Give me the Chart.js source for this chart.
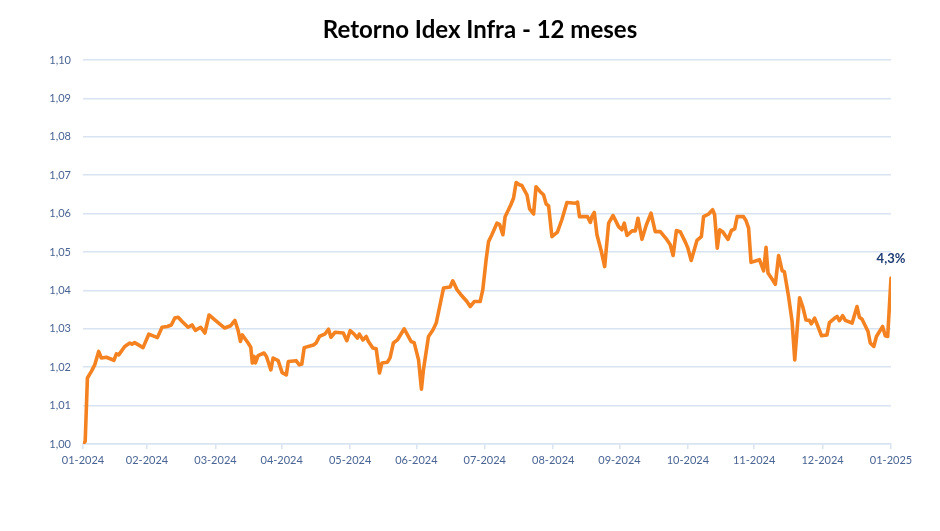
<!DOCTYPE html>
<html>
<head>
<meta charset="utf-8">
<script src="https://cdn.jsdelivr.net/npm/chart.js@4.4.1/dist/chart.umd.min.js"></script>
<style>
    html, body { margin: 0; padding: 0; background: #ffffff; }
    #wrap { width: 940px; height: 531px; }
</style>
</head>
<body>
<div id="wrap"><canvas id="idexChart"></canvas></div>
<script>
/* ----- Data ----- */
const chartTitle = 'Retorno Idex Infra - 12 meses';

// days since start of the window
const days = [
    0, 1, 2, 3.8, 5.3, 7.1, 8.3, 10.6, 14, 15.1, 16.2, 18.9, 21.2, 22.2, 23.4, 27.2, 29.8,
    33.7, 35.8, 38.2, 40, 41.6, 43.1, 44.9, 47.6, 49.4, 50.9, 53.3, 55.2, 57.1, 59.7,
    64.2, 66.9, 68.8, 70.2, 71.3, 72.2, 74.8, 76, 76.7, 77.5, 78.1, 79.3, 82, 83.1,
    85.1, 86.1, 88.4, 90.2, 92.1, 93, 96.5, 98, 99.1, 100.2, 104.4, 105.6, 107.1,
    109.7, 111.2, 112.3, 114.2, 117.9, 119.5, 121, 122.8, 124.3, 125.2, 126.8, 128.3,
    129.3, 131.3, 132.8, 134.3, 135.4, 137.9, 139.1, 140.6, 142.4, 145.5, 148.6, 150,
    152, 153.3, 154.2, 156.5, 158.5, 160, 163.3, 166.3, 167.5, 169.4, 171.6, 173.9,
    175.4, 177.2, 179.9, 181.1, 182.6, 183.7, 185.2, 187.5, 188.7, 190.2, 191.2, 193.8,
    195, 196.2, 197.7, 198.8, 201.1, 202.3, 204.1, 205.2, 207.1, 208.6, 209.8, 210.9,
    212.4, 214.9, 216.9, 219.2, 223, 224, 224.9, 228.5, 229.8, 230.5, 231.6, 232.8,
    234.6, 236.3, 238.1, 240.1, 242.6, 244.1, 245.2, 246.4, 248.7, 250.2, 251.4, 253.2,
    255.2, 257.3, 259.2, 261.5, 264.5, 266, 267.3, 268.8, 270.6, 272.9, 274, 275.5,
    278.1, 280.1, 281.1, 283.4, 285.2, 286.1, 287.3, 288.4, 289.7, 292.2, 293.7, 295.2,
    296.3, 299.2, 300.3, 301.5, 302.6, 305.3, 306.4, 308.3, 309.4, 310.3, 311.8, 313.6,
    315.1, 316.7, 317.7, 319.6, 321.2, 322.4, 324.6, 326, 327.5, 329, 329.9, 331.4,
    333.2, 334.5, 337, 338.1, 340.5, 341.6, 342.6, 344.1, 345.3, 348.4, 350.6, 351.7,
    352.9, 355.6, 356.6, 358.2, 359.4, 362.2, 363.4, 364.5, 366
];

const values = [
    1.0000, 1.0007, 1.0172, 1.0189, 1.0206, 1.0241, 1.0224, 1.0226, 1.0218, 1.0235, 1.0232, 1.0254, 1.0263, 1.0260, 1.0264, 1.0251, 1.0286,
    1.0277, 1.0304, 1.0306, 1.0310, 1.0328, 1.0330, 1.0319, 1.0304, 1.0310, 1.0296, 1.0304, 1.0289, 1.0336, 1.0323,
    1.0302, 1.0308, 1.0322, 1.0297, 1.0267, 1.0284, 1.0263, 1.0252, 1.0211, 1.0228, 1.0211, 1.0230, 1.0237, 1.0228,
    1.0193, 1.0224, 1.0217, 1.0186, 1.0180, 1.0215, 1.0217, 1.0206, 1.0208, 1.0251, 1.0258, 1.0263, 1.0280,
    1.0287, 1.0299, 1.0278, 1.0291, 1.0289, 1.0269, 1.0295, 1.0286, 1.0276, 1.0286, 1.0271, 1.0280,
    1.0267, 1.0250, 1.0248, 1.0185, 1.0211, 1.0213, 1.0225, 1.0263, 1.0271, 1.0300, 1.0267, 1.0264,
    1.0219, 1.0143, 1.0193, 1.0280, 1.0297, 1.0315, 1.0406, 1.0409, 1.0425, 1.0402, 1.0386, 1.0371,
    1.0358, 1.0371, 1.0371, 1.0402, 1.0480, 1.0527, 1.0545, 1.0575, 1.0572, 1.0545, 1.0592, 1.0623,
    1.0640, 1.0681, 1.0675, 1.0673, 1.0649, 1.0612, 1.0599, 1.0670, 1.0657, 1.0649, 1.0625, 1.0620,
    1.0540, 1.0552, 1.0584, 1.0629, 1.0627, 1.0630, 1.0592, 1.0592, 1.0577, 1.0592, 1.0603, 1.0545,
    1.0506, 1.0462, 1.0575, 1.0595, 1.0566, 1.0558, 1.0575, 1.0543, 1.0555, 1.0555, 1.0588, 1.0533,
    1.0571, 1.0601, 1.0553, 1.0553, 1.0532, 1.0519, 1.0491, 1.0556, 1.0552, 1.0525, 1.0510, 1.0478,
    1.0530, 1.0540, 1.0592, 1.0599, 1.0610, 1.0597, 1.0510, 1.0558, 1.0553, 1.0533, 1.0556, 1.0560,
    1.0592, 1.0592, 1.0582, 1.0562, 1.0473, 1.0478, 1.0480, 1.0451, 1.0512, 1.0445, 1.0432, 1.0416,
    1.0491, 1.0451, 1.0449, 1.0384, 1.0319, 1.0219, 1.0381, 1.0358, 1.0323, 1.0322, 1.0313, 1.0328,
    1.0302, 1.0282, 1.0284, 1.0316, 1.0328, 1.0332, 1.0321, 1.0334, 1.0322, 1.0315, 1.0358, 1.0330,
    1.0325, 1.0293, 1.0263, 1.0254, 1.0280, 1.0306, 1.0282, 1.0280, 1.0432
];

// month boundaries (days) and their labels
const monthTicks = [0, 29, 60, 90, 121, 151, 182, 213, 243, 274, 304, 335, 366];
const monthLabels = [
    '01-2024', '02-2024', '03-2024', '04-2024', '05-2024', '06-2024', '07-2024',
    '08-2024', '09-2024', '10-2024', '11-2024', '12-2024', '01-2025'
];

const yMin = 1.00;
const yMax = 1.10;
const yStep = 0.01;

/* ----- Style ----- */
const lineColor = '#F58220';
const gridColor = '#D9E4F2';
const tickColor = '#4A6494';
const noteColor = '#1F3C73';
const baseFont = 'Lato, "Open Sans", sans-serif';

/* ----- Title + last value label plugin ----- */
const chartDecorations = {
    id: 'chartDecorations',
    afterDatasetsDraw(chart) {
        const c = chart.ctx;
        c.save();

        // title, centred on the page like the reference
        c.font = 'bold 24px ' + baseFont;
        c.fillStyle = '#000000';
        c.textAlign = 'center';
        c.textBaseline = 'middle';
        c.fillText(chartTitle, chart.width / 2 + 10, 30);

        // return over the period, above the last point
        const meta = chart.getDatasetMeta(0);
        const last = meta.data[meta.data.length - 1];
        if (last) {
            const ret = (values[values.length - 1] / values[0] - 1) * 100;
            const text = ret.toFixed(1).replace('.', ',') + '%';
            c.font = 'bold 13px ' + baseFont;
            c.fillStyle = noteColor;
            c.fillText(text, last.x, last.y - 19);
        }
        c.restore();
    }
};

/* ----- Chart ----- */
function createIdexChart() {
    const ctx = document.getElementById('idexChart');
    const points = days.map((d, i) => ({ x: d, y: values[i] }));

    new Chart(ctx, {
        type: 'line',
        data: {
            datasets: [{
                label: 'Idex Infra',
                data: points,
                borderColor: lineColor,
                borderWidth: 3.6,
                pointRadius: 0,
                tension: 0,
                fill: false,
                borderJoinStyle: 'round',
                borderCapStyle: 'round'
            }]
        },
        options: {
            responsive: true,
            maintainAspectRatio: false,
            animation: false,
            layout: {
                padding: { left: 0, right: 49, top: 60, bottom: 47 }
            },
            plugins: {
                legend: { display: false },
                tooltip: { enabled: false },
                title: { display: false }
            },
            scales: {
                x: {
                    type: 'linear',
                    min: 0,
                    max: 366,
                    afterBuildTicks: (scale) => {
                        scale.ticks = monthTicks.map(v => ({ value: v }));
                    },
                    afterFit: (scale) => { scale.height = 40; },
                    ticks: {
                        color: tickColor,
                        font: { family: baseFont, size: 11 },
                        padding: 5,
                        maxRotation: 0,
                        autoSkip: false,
                        callback: (value) => {
                            const i = monthTicks.indexOf(value);
                            return i >= 0 ? monthLabels[i] : '';
                        }
                    },
                    grid: {
                        drawOnChartArea: false,
                        color: gridColor,
                        tickLength: 5,
                        lineWidth: 1.5
                    },
                    border: { display: true, color: gridColor, width: 1.5 }
                },
                y: {
                    min: yMin,
                    max: yMax,
                    afterFit: (scale) => { scale.width = 83; },
                    ticks: {
                        stepSize: yStep,
                        color: tickColor,
                        font: { family: baseFont, size: 11 },
                        padding: 12,
                        callback: (value) => value.toFixed(2).replace('.', ',')
                    },
                    grid: {
                        color: gridColor,
                        lineWidth: 1.5,
                        drawTicks: false
                    },
                    border: { display: false }
                }
            }
        },
        plugins: [chartDecorations]
    });
}

createIdexChart();
</script>
</body>
</html>
